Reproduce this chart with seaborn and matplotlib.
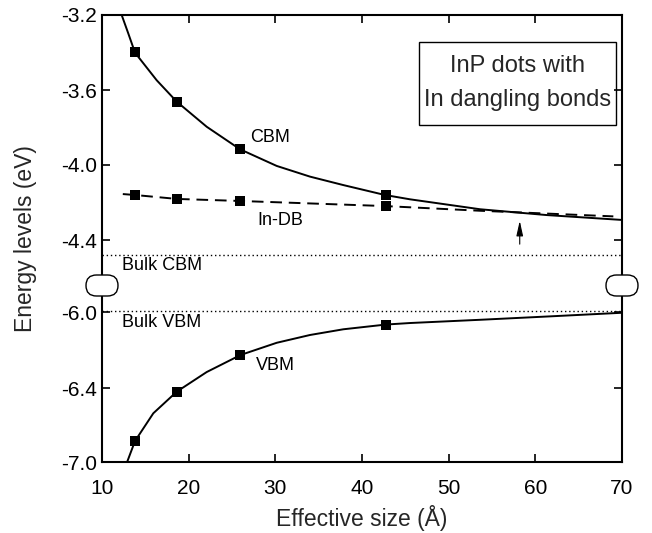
import numpy as np
import matplotlib
matplotlib.use("Agg")
import matplotlib.pyplot as plt
import seaborn as sns
from matplotlib.patches import FancyBboxPatch, Rectangle
from matplotlib.transforms import IdentityTransform

# computed points (markers)
sizes = [13.8, 18.6, 25.9, 42.8]
cbm = [-3.40, -3.662, -3.916, -4.16]
indb = [-4.16, -4.181, -4.192, -4.219]
vbm = [-6.83, -6.43, -6.226, -6.066]

# fitted curves
cbm_fit_x = [12.27, 13.03, 13.81, 16.31, 18.62, 22.08, 25.92, 30.16, 34.0, 37.84,
             42.65, 45.54, 53.62, 61.31, 70.0]
cbm_fit_y = [-3.20, -3.298, -3.401, -3.548, -3.662, -3.796, -3.916, -4.005, -4.062,
             -4.107, -4.16, -4.183, -4.236, -4.267, -4.293]
indb_fit_x = [12.4, 13.81, 18.65, 26.04, 42.65, 53.62, 69.0]
indb_fit_y = [-4.155, -4.16, -4.181, -4.192, -4.219, -4.244, -4.274]
vbm_fit_x = [12.9, 13.81, 15.92, 18.62, 22.08, 26.0, 30.16, 34.0, 37.84,
             42.77, 45.54, 53.62, 61.69, 70.0]
vbm_fit_y = [-7.0, -6.83, -6.605, -6.43, -6.316, -6.226, -6.162, -6.121,
             -6.091, -6.066, -6.058, -6.041, -6.023, -6.004]

bulk_cbm = -4.48
bulk_vbm = -5.995
arrow_x = 58.2

xticks = [10, 20, 30, 40, 50, 60, 70]
yticks = [-7.0, -6.4, -6.0, -4.4, -4.0, -3.6, -3.2]
ytick_labels = ["-7.0", "-6.4", "-6.0", "-4.4", "-4.0", "-3.6", "-3.2"]

# broken energy axis: piecewise linear scale (energy -> height)
knot_e = np.array([-8.0, -7.0, -6.4, -6.0, -5.92, -4.52, -4.4, -3.2, -2.0])
knot_h = -np.array([585.3, 462, 388, 312, 296.8, 262.5, 240, 15, -210])


def forward(e):
    return np.interp(e, knot_e, knot_h)


def inverse(h):
    return np.interp(h, knot_h, knot_e)


sns.set_style("ticks")
plt.rcParams["font.family"] = ["Liberation Sans", "DejaVu Sans"]
plt.rcParams["axes.unicode_minus"] = False

fig = plt.figure(figsize=(6.52, 5.33), dpi=100)
ax = fig.add_axes([102 / 652, 1 - 462 / 533, 520 / 652, 447 / 533])
ax.set_yscale("function", functions=(forward, inverse))

lw = 1.4
sns.lineplot(x=cbm_fit_x, y=cbm_fit_y, ax=ax, color="black", lw=lw, sort=False)
sns.lineplot(x=vbm_fit_x, y=vbm_fit_y, ax=ax, color="black", lw=lw, sort=False)
sns.lineplot(x=indb_fit_x, y=indb_fit_y, ax=ax, color="black", lw=lw, sort=False,
             linestyle=(0, (6, 3.5)))
for ys in (cbm, indb, vbm):
    sns.scatterplot(x=sizes, y=ys, ax=ax, marker="s", s=58, color="black",
                    edgecolor="black", linewidth=0, zorder=5)

ax.axhline(bulk_cbm, color="black", lw=1.0, ls=(0, (1, 2)))
ax.axhline(bulk_vbm, color="black", lw=1.0, ls=(0, (1, 2)))

ax.annotate("", xy=(arrow_x, -4.283), xytext=(arrow_x, -4.437),
            arrowprops=dict(arrowstyle="-|>,head_length=0.9,head_width=0.2",
                            color="black", lw=0.8))

ax.set_xlim(10, 70)
ax.set_ylim(-7.0, -3.2)
ax.set_xticks(xticks)
ax.set_yticks(yticks)
ax.set_yticklabels(ytick_labels)
ax.tick_params(direction="in", length=6, width=1.2, top=True, right=True,
               labelsize=15, colors="black")
ax.tick_params(axis="x", pad=12.5)
ax.tick_params(axis="y", pad=3.6)
for sp in ax.spines.values():
    sp.set_linewidth(1.5)
    sp.set_color("black")

ax.set_xlabel("Effective size (Å)", fontsize=16.5, labelpad=5)
ax.set_ylabel("Energy levels (eV)", fontsize=16.5, labelpad=17.5)

txt = dict(transform=ax.transAxes, fontsize=13, color="black")
ax.text(0.323, 0.727, "CBM", ha="center", va="center", **txt)
ax.text(0.342, 0.541, "In-DB", ha="center", va="center", **txt)
ax.text(0.0385, 0.4385, "Bulk CBM", ha="left", va="center", **txt)
ax.text(0.0385, 0.311, "Bulk VBM", ha="left", va="center", **txt)
ax.text(0.333, 0.215, "VBM", ha="center", va="center", **txt)

ax.add_patch(Rectangle((0.6096, 0.7539), 0.3788, 0.1857, transform=ax.transAxes,
                       fill=False, ec="black", lw=1.0, zorder=6))
ax.text(0.799, 0.8865, "InP dots with", transform=ax.transAxes, ha="center",
        va="center", fontsize=17)
ax.text(0.799, 0.8105, "In dangling bonds", transform=ax.transAxes, ha="center",
        va="center", fontsize=17)

# break marks on both spines
for x0 in (86, 606):
    fig.add_artist(FancyBboxPatch((x0, 533 - 296), 32, 21,
                                  boxstyle="round,pad=0,rounding_size=10.5",
                                  transform=IdentityTransform(), fc="white",
                                  ec="black", lw=1.0, zorder=10))

fig.savefig("out.png", dpi=100)
